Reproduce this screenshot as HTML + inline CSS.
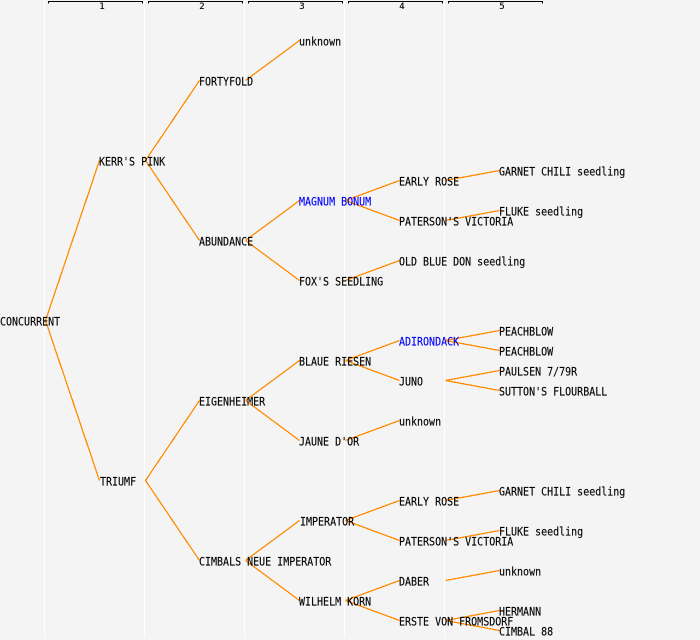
<!DOCTYPE html>
<html><head><meta charset="utf-8"><style>
html,body{margin:0;padding:0;background:#f4f4f4}
svg{display:block}
text{font-family:"DejaVu Sans Mono","Liberation Mono",monospace;font-size:10px;fill:#000;white-space:pre;stroke:#000;stroke-width:.12}
.n text{transform-box:fill-box;transform-origin:0 100%;transform:scaleY(1.15)}
text.b{fill:#0000ff;stroke:#0000ff}
.h{font-size:9px;text-anchor:middle}
</style></head><body>
<svg width="700" height="640" viewBox="0 0 700 640" xmlns="http://www.w3.org/2000/svg">
<rect width="700" height="640" fill="#f4f4f4"/>
<g fill="#ffffff" shape-rendering="crispEdges">
<rect x="44" y="0" width="1" height="638"/><rect x="144" y="0" width="1" height="638"/><rect x="244" y="0" width="1" height="638"/><rect x="344" y="0" width="1" height="638"/><rect x="444" y="0" width="1" height="638"/>
</g>
<g fill="none" stroke="#000" stroke-width="1" shape-rendering="crispEdges">
<path d="M48.5 3.5V1.5H142.5V3.5"/><path d="M148.5 3.5V1.5H242.5V3.5"/><path d="M248.5 3.5V1.5H342.5V3.5"/><path d="M348.5 3.5V1.5H442.5V3.5"/><path d="M448.5 3.5V1.5H542.5V3.5"/>
</g>
<text class="h" x="102" y="9">1</text><text class="h" x="202" y="9">2</text><text class="h" x="302" y="9">3</text><text class="h" x="402" y="9">4</text><text class="h" x="502" y="9">5</text>
<path transform="translate(-.5,.5)" shape-rendering="crispEdges" fill="none" stroke="#ff8c00" stroke-width="1.3" d="M46 320L100 160M46 320L100 480M146 160L200 80M146 160L200 240M146 480L200 400M146 480L200 560M246 80L300 40M246 240L300 200M246 240L300 280M246 400L300 360M246 400L300 440M246 560L300 520M246 560L300 600M346 200L400 180M346 200L400 220M346 280L400 260M346 360L400 340M346 360L400 380M346 440L400 420M346 520L400 500M346 520L400 540M346 600L400 580M346 600L400 620M446 180L500 170M446 220L500 210M446 340L500 330M446 340L500 350M446 380L500 370M446 380L500 390M446 500L500 490M446 540L500 530M446 580L500 570M446 620L500 610M446 620L500 630"/>
<g class="n">
<text x="0" y="326">CONCURRENT</text>
<text x="99" y="166">KERR'S PINK</text>
<text x="100" y="486">TRIUMF</text>
<text x="199" y="86">FORTYFOLD</text>
<text x="199" y="246">ABUNDANCE</text>
<text x="199" y="406">EIGENHEIMER</text>
<text x="199" y="566">CIMBALS NEUE IMPERATOR</text>
<text x="299" y="46">unknown</text>
<text class="b" x="299" y="206">MAGNUM BONUM</text>
<text x="299" y="286">FOX'S SEEDLING</text>
<text x="299" y="366">BLAUE RIESEN</text>
<text x="299" y="446">JAUNE D'OR</text>
<text x="300" y="526">IMPERATOR</text>
<text x="299" y="606">WILHELM KORN</text>
<text x="399" y="186">EARLY ROSE</text>
<text x="399" y="226">PATERSON'S VICTORIA</text>
<text x="399" y="266">OLD BLUE DON seedling</text>
<text class="b" x="399" y="346">ADIRONDACK</text>
<text x="399" y="386">JUNO</text>
<text x="399" y="426">unknown</text>
<text x="399" y="506">EARLY ROSE</text>
<text x="399" y="546">PATERSON'S VICTORIA</text>
<text x="399" y="586">DABER</text>
<text x="399" y="626">ERSTE VON FROMSDORF</text>
<text x="499" y="176">GARNET CHILI seedling</text>
<text x="499" y="216">FLUKE seedling</text>
<text x="499" y="336">PEACHBLOW</text>
<text x="499" y="356">PEACHBLOW</text>
<text x="499" y="376">PAULSEN 7/79R</text>
<text x="499" y="396">SUTTON'S FLOURBALL</text>
<text x="499" y="496">GARNET CHILI seedling</text>
<text x="499" y="536">FLUKE seedling</text>
<text x="499" y="576">unknown</text>
<text x="499" y="616">HERMANN</text>
<text x="499" y="636">CIMBAL 88</text>
</g>
</svg>
</body></html>
